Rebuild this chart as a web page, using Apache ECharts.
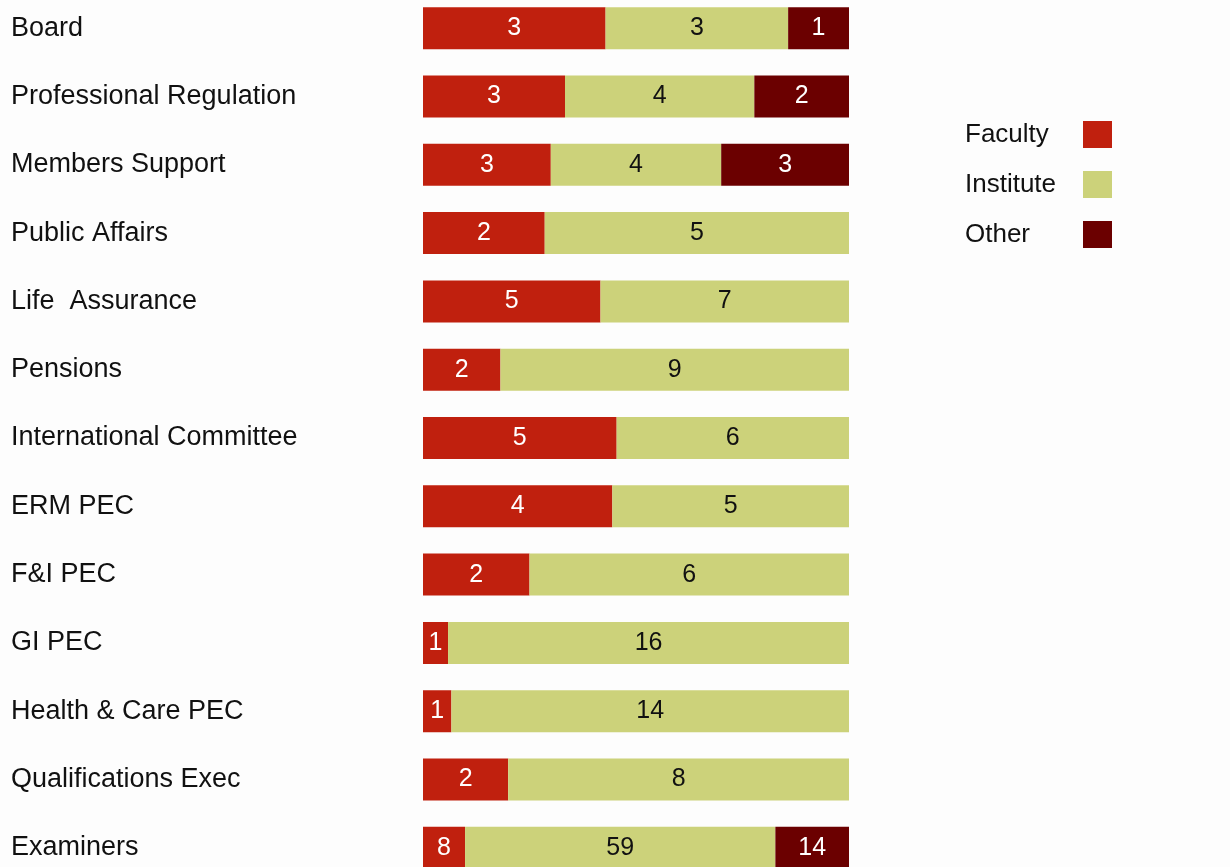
<!DOCTYPE html>
<html>
<head>
<meta charset="utf-8">
<script src="https://cdn.jsdelivr.net/npm/echarts@6/dist/echarts.min.js"></script>
<style>
html,body{margin:0;padding:0;background:#fdfdfd;overflow:hidden;}
#c{position:absolute;left:0;top:-6px;width:1230px;height:888px;}
</style>
</head>
<body>
<div id="c"></div>
<script>
const categories = ["Board","Professional Regulation","Members Support","Public Affairs","Life  Assurance","Pensions","International Committee","ERM PEC","F&I PEC","GI PEC","Health & Care PEC","Qualifications Exec","Examiners"];
const faculty   = [3,3,3,2,5,2,5,4,2,1,1,2,8];
const institute = [3,4,4,5,7,9,6,5,6,16,14,8,59];
const other     = [1,2,3,0,0,0,0,0,0,0,0,0,14];
const seriesNames = ["Faculty","Institute","Other"];
const colors = ["#c0200e","#ccd27a","#6b0000"];
const labelColors = ["#ffffff","#111111","#ffffff"];

const raw = [faculty, institute, other];
const totals = categories.map((_, i) => faculty[i] + institute[i] + other[i]);
const FONT = 'Liberation Sans, Arial, sans-serif';

const series = raw.map((arr, s) => ({
  name: seriesNames[s],
  type: 'bar',
  stack: 'total',
  barWidth: 42,
  itemStyle: { color: colors[s] },
  label: {
    show: true,
    position: 'inside',
    color: labelColors[s],
    fontFamily: FONT,
    fontSize: 25,
    formatter: p => raw[s][p.dataIndex] ? String(raw[s][p.dataIndex]) : ''
  },
  data: arr.map((v, i) => v / totals[i] * 100)
}));

const chart = echarts.init(document.getElementById('c'));
chart.setOption({
  backgroundColor: '#fdfdfd',
  animation: false,
  grid: { left: 423, width: 426, top: 0, height: 888, containLabel: false },
  xAxis: { type: 'value', min: 0, max: 100, show: false },
  yAxis: {
    type: 'category',
    data: categories,
    inverse: true,
    axisLine: { show: false },
    axisTick: { show: false },
    axisLabel: {
      align: 'left',
      margin: 412,
      color: '#111111',
      fontFamily: FONT,
      fontSize: 27
    }
  },
  legend: [
    {
      orient: 'vertical',
      left: 960,
      top: 127,
      padding: 0,
      itemWidth: 0,
      itemHeight: 27,
      itemGap: 23,
      icon: 'rect',
      itemStyle: { opacity: 0 },
      data: seriesNames,
      textStyle: { fontSize: 26, color: '#111111', fontFamily: FONT }
    },
    {
      orient: 'vertical',
      left: 1083,
      top: 127,
      padding: 0,
      itemWidth: 29,
      itemHeight: 27,
      itemGap: 23,
      icon: 'rect',
      data: seriesNames,
      formatter: () => '',
      textStyle: { fontSize: 26, fontFamily: FONT }
    }
  ],
  series: series
});
</script>
</body>
</html>
